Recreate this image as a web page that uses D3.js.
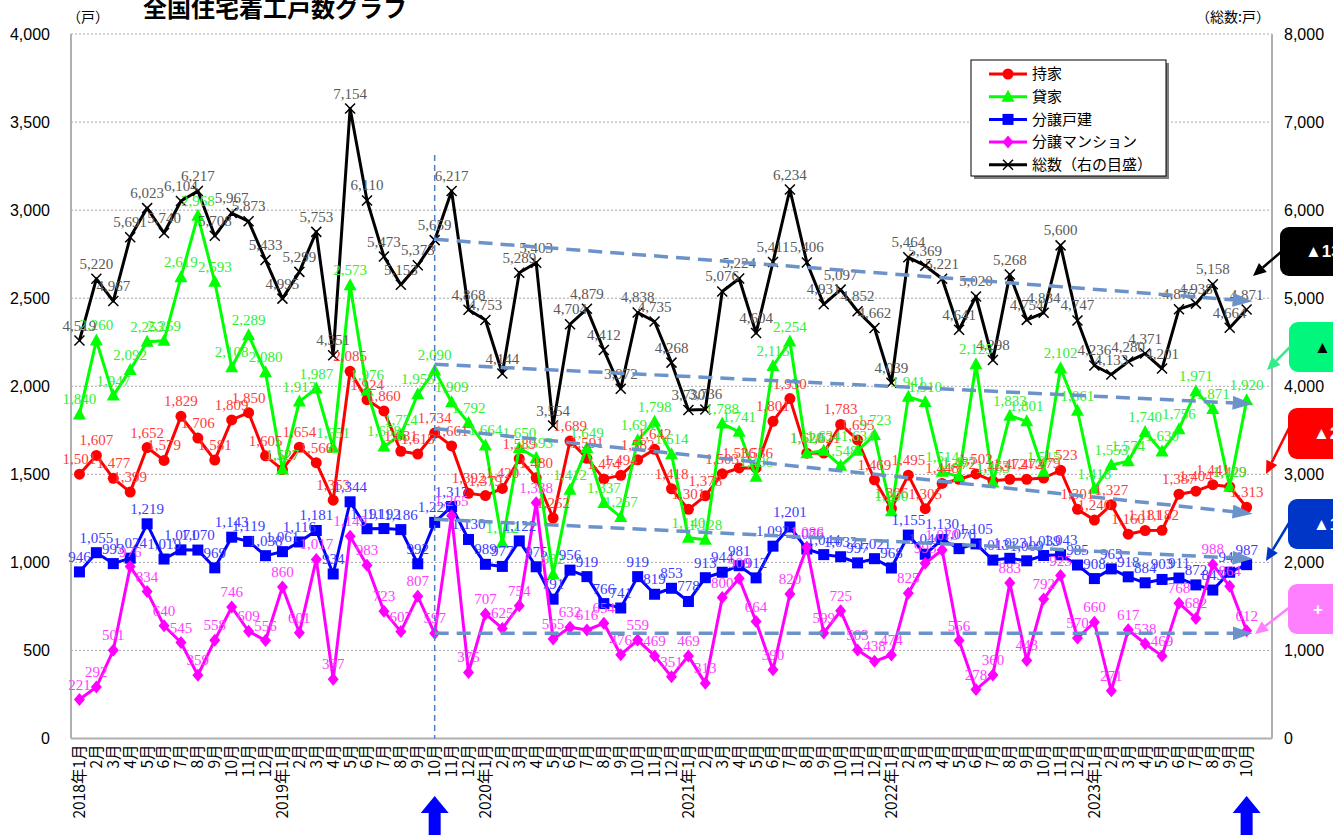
<!DOCTYPE html>
<html><head><meta charset="utf-8">
<script src="https://cdn.jsdelivr.net/npm/d3@7"></script>
<style>body{margin:0;background:#fff;overflow:hidden}svg{display:block}</style>
</head><body>
<svg id="chart" width="1333" height="835"></svg>
<script>
// 月次カテゴリ (2018年1月〜2023年10月)
const months = [
 "2018年1月","2月","3月","4月","5月","6月","7月","8月","9月","10月","11月","12月",
 "2019年1月","2月","3月","4月","5月","6月","7月","8月","9月","10月","11月","12月",
 "2020年1月","2月","3月","4月","5月","6月","7月","8月","9月","10月","11月","12月",
 "2021年1月","2月","3月","4月","5月","6月","7月","8月","9月","10月","11月","12月",
 "2022年1月","2月","3月","4月","5月","6月","7月","8月","9月","10月","11月","12月",
 "2023年1月","2月","3月","4月","5月","6月","7月","8月","9月","10月"
];
// 持家
const mochiie = [
 1501,1607,1477,1399,1652,1579,1829,1706,1581,1809,1850,1605,
 1527,1654,1566,1353,2085,1924,1860,1631,1615,1734,1661,1392,
 1379,1420,1589,1480,1252,1689,1591,1474,1494,1582,1642,1418,
 1301,1378,1503,1536,1536,1801,1930,1620,1621,1783,1695,1469,
 1306,1495,1305,1448,1472,1502,1463,1472,1472,1479,1523,1301,
 1240,1327,1160,1181,1182,1387,1404,1441,1429,1313
];
// 貸家
const kashiya = [
 1840,2260,1947,2092,2253,2259,2619,2968,2593,2108,2289,2080,
 1527,1913,1987,1651,2573,1976,1658,1724,1955,2090,1909,1792,
 1664,1112,1650,1593,932,1412,1649,1337,1257,1694,1798,1614,
 1140,1128,1788,1741,1486,2115,2254,1620,1634,1548,1634,1723,
 1290,1941,1910,1514,1487,2125,1453,1833,1801,1515,2102,1861,
 1418,1553,1574,1740,1630,1756,1971,1871,1429,1920
];
// 分譲戸建
const bunjoKodate = [
 946,1055,993,1024,1219,1019,1071,1070,969,1143,1119,1038,
 1061,1116,1181,934,1344,1191,1192,1186,992,1227,1317,1130,
 989,977,1122,975,791,956,919,766,741,919,819,853,
 778,913,944,981,912,1092,1201,1076,1044,1032,997,1021,
 968,1155,1046,1130,1078,1105,1013,1023,1009,1039,1043,985,
 908,963,918,884,903,911,872,843,944,987
];
// 分譲マンション
const bunjoMansion = [
 221,292,501,976,834,640,545,359,558,746,609,556,
 860,601,1017,337,1149,983,723,607,807,597,1265,375,
 707,625,754,1338,565,632,616,654,476,559,469,351,
 469,313,800,909,664,390,820,1086,599,725,503,438,
 474,825,995,1070,556,278,360,883,443,792,925,570,
 660,271,617,538,469,768,682,988,864,612
];
// 総数（右の目盛）
const total = [
 4519,5220,4967,5691,6023,5740,6104,6217,5708,5967,5873,5433,
 4995,5299,5753,4351,7154,6110,5473,5153,5373,5659,6217,4868,
 4753,4144,5289,5403,3554,4704,4879,4412,3972,4838,4735,4268,
 3730,3736,5076,5224,4604,5411,6234,5406,4931,5097,4852,4662,
 4039,5464,5369,5221,4641,5020,4298,5268,4754,4834,5600,4747,
 4236,4133,4280,4371,4201,4875,4938,5158,4664,4871
];
const leftTicks = [0,500,1000,1500,2000,2500,3000,3500,4000];
const rightTicks = [0,1000,2000,3000,4000,5000,6000,7000,8000];
// 比較期間（2019年10月 → 2023年10月）
const periodStart = 21, periodEnd = 69;
// 傾向線の始点・終点の値（持家, 貸家, 分譲戸建, 分譲マンション, 総数）
const trendFrom = [1760, 2125, 1245, 597, 5670];
const trendTo   = [1285, 1904, 1024, 597, 4977];
// 右側の増減ボックス
const badgeTexts = ["▲13", "▲", "▲2", "▲1", "+"];

const svg = d3.select("#chart");
const plot = {l: 71, r: 1272, t: 34, b: 738.5};
const slot = (plot.r - plot.l) / (months.length + 1);
const x = d3.scaleBand().domain(d3.range(months.length)).range([plot.l, plot.r - slot]);
const cx = i => x(i) + x.bandwidth() / 2;
const yL = d3.scaleLinear().domain([0, 4000]).range([plot.b, plot.t]);
const yR = d3.scaleLinear().domain([0, 8000]).range([plot.b, plot.t]);
const fmt = d3.format(",");

const numFont = "'Liberation Sans', Arial, sans-serif";
const jpFont = "'Noto Sans CJK JP', sans-serif";
const lblFont = "'Liberation Serif', 'DejaVu Serif', serif";

// グリッド線
svg.append("g").selectAll("line").data(leftTicks.filter(v => v > 0)).join("line")
  .attr("x1", plot.l).attr("x2", plot.r)
  .attr("y1", d => yL(d)).attr("y2", d => yL(d))
  .attr("stroke", "#a6a6a6").attr("stroke-width", 1).attr("stroke-dasharray", "2,2");

// 軸線
const axisColor = "#b0b0b0";
svg.append("line").attr("x1", plot.l).attr("x2", plot.l).attr("y1", plot.t).attr("y2", plot.b)
  .attr("stroke", axisColor).attr("stroke-width", 2);
svg.append("line").attr("x1", plot.r).attr("x2", plot.r).attr("y1", plot.t).attr("y2", plot.b)
  .attr("stroke", axisColor).attr("stroke-width", 2);
svg.append("line").attr("x1", plot.l).attr("x2", plot.r).attr("y1", plot.b).attr("y2", plot.b)
  .attr("stroke", axisColor).attr("stroke-width", 2);

// 左軸・右軸の目盛ラベル
const gL = svg.append("g").attr("transform", `translate(${plot.l},0)`)
  .call(d3.axisLeft(yL).tickValues(leftTicks).tickFormat(fmt).tickSize(0).tickPadding(21));
const gR = svg.append("g").attr("transform", `translate(${plot.r},0)`)
  .call(d3.axisRight(yR).tickValues(rightTicks).tickFormat(d => d === 0 ? "0" : d3.format(",")(d)).tickSize(0).tickPadding(12));
[gL, gR].forEach(g => {
  g.select(".domain").remove();
  g.selectAll("text").attr("font-family", numFont).attr("font-size", 16).attr("fill", "#000");
});

// 横軸ラベル（縦書き）
const gX = svg.append("g").attr("transform", `translate(0,${plot.b})`)
  .call(d3.axisBottom(x).tickFormat(i => months[i]).tickSize(0));
gX.select(".domain").remove();
gX.selectAll("text")
  .attr("font-family", jpFont).attr("font-size", 15.5).attr("fill", "#000")
  .attr("text-anchor", "end")
  .attr("transform", "rotate(-90)")
  .attr("x", -6).attr("y", 0).attr("dy", "0.35em");

// 系列
const series = [
  {name: "持家", values: mochiie, color: "#ff0000", label: "#ff3c3c", y: yL, mark: "circle"},
  {name: "貸家", values: kashiya, color: "#00ff00", label: "#33ee33", y: yL, mark: "triangle"},
  {name: "分譲戸建", values: bunjoKodate, color: "#0000ff", label: "#3c3cff", y: yL, mark: "square"},
  {name: "分譲マンション", values: bunjoMansion, color: "#ff00ff", label: "#ff3cff", y: yL, mark: "diamond"},
  {name: "総数（右の目盛）", values: total, color: "#000000", label: "#5a5a5a", y: yR, mark: "cross"}
];

function drawMarker(g, kind, color, px, py) {
  if (kind === "circle") {
    g.append("circle").attr("cx", px).attr("cy", py).attr("r", 5.5).attr("fill", color);
  } else if (kind === "triangle") {
    g.append("path").attr("d", `M${px},${py - 7}L${px + 6.5},${py + 5}L${px - 6.5},${py + 5}Z`).attr("fill", color);
  } else if (kind === "square") {
    g.append("rect").attr("x", px - 5.5).attr("y", py - 5.5).attr("width", 11).attr("height", 11).attr("fill", color);
  } else if (kind === "diamond") {
    g.append("path").attr("d", `M${px},${py - 6.5}L${px + 5.5},${py}L${px},${py + 6.5}L${px - 5.5},${py}Z`).attr("fill", color);
  } else {
    g.append("path").attr("d", `M${px - 5},${py - 5}L${px + 5},${py + 5}M${px - 5},${py + 5}L${px + 5},${py - 5}`)
      .attr("stroke", color).attr("stroke-width", 1.5).attr("fill", "none");
  }
}

const gSeries = svg.append("g");
series.forEach(s => {
  const g = gSeries.append("g");
  const line = d3.line().x((d, i) => cx(i)).y(d => s.y(d));
  g.append("path").attr("d", line(s.values)).attr("fill", "none")
    .attr("stroke", s.color).attr("stroke-width", 3).attr("stroke-linejoin", "round");
  s.values.forEach((v, i) => drawMarker(g, s.mark, s.color, cx(i), s.y(v)));
});

// データラベル
const gLabels = svg.append("g");
series.forEach(s => {
  gLabels.append("g").selectAll("text").data(s.values).join("text")
    .attr("x", (d, i) => cx(i)).attr("y", d => s.y(d) - 10)
    .attr("text-anchor", "middle")
    .attr("font-family", lblFont).attr("font-size", 15)
    .attr("fill", s.label)
    .text(d => fmt(d));
});

// 比較開始月の縦線
svg.append("line")
  .attr("x1", cx(periodStart)).attr("x2", cx(periodStart))
  .attr("y1", 155).attr("y2", plot.b)
  .attr("stroke", "#4f7fbf").attr("stroke-width", 1.5).attr("stroke-dasharray", "6,4");

// 傾向の矢印（点線）
const trendColor = "#6c93c9";
const defs = svg.append("defs");
defs.append("marker").attr("id", "trendHead").attr("viewBox", "0 0 20 14")
  .attr("refX", 6).attr("refY", 7).attr("markerWidth", 20).attr("markerHeight", 14)
  .attr("markerUnits", "userSpaceOnUse").attr("orient", "auto")
  .append("path").attr("d", "M0,0L20,7L0,14Z").attr("fill", trendColor);
series.forEach((s, k) => {
  svg.append("line")
    .attr("x1", cx(periodStart)).attr("y1", s.y(trendFrom[k]))
    .attr("x2", cx(periodEnd) - 8).attr("y2", s.y(trendTo[k]))
    .attr("stroke", trendColor).attr("stroke-width", 3.5)
    .attr("stroke-dasharray", "14,8")
    .attr("marker-end", "url(#trendHead)");
});

// 凡例
const lg = svg.append("g").attr("transform", "translate(971,60)");
lg.append("rect").attr("x", 3).attr("y", 3).attr("width", 195).attr("height", 116).attr("fill", "#7f7f7f");
lg.append("rect").attr("width", 195).attr("height", 116).attr("fill", "#fff").attr("stroke", "#000").attr("stroke-width", 1);
series.forEach((s, k) => {
  const yy = 14 + k * 22.7;
  lg.append("line").attr("x1", 18).attr("x2", 56).attr("y1", yy).attr("y2", yy)
    .attr("stroke", s.color).attr("stroke-width", 3);
  drawMarker(lg, s.mark, s.color, 37, yy);
  lg.append("text").attr("x", 61).attr("y", yy).attr("dy", "0.35em")
    .attr("font-family", jpFont).attr("font-size", 15).attr("fill", "#000").text(s.name);
});

// タイトル・単位
svg.append("text").attr("x", 143).attr("y", 17)
  .attr("font-family", jpFont).attr("font-size", 24).attr("font-weight", "bold").text("全国住宅着工戸数グラフ");
svg.append("text").attr("x", 67).attr("y", 22)
  .attr("font-family", jpFont).attr("font-size", 14).text("（戸）");
svg.append("text").attr("x", 1270).attr("y", 22).attr("text-anchor", "end")
  .attr("font-family", jpFont).attr("font-size", 14).text("（総数:戸）");

// 比較月を示す下部の矢印
[periodStart, periodEnd].forEach(i => {
  const px = cx(i);
  svg.append("path")
    .attr("d", `M${px},796L${px + 14},813L${px + 6},813L${px + 6},840L${px - 6},840L${px - 6},813L${px - 14},813Z`)
    .attr("fill", "#0000ff");
});

// 右側の増減ボックスと矢印
const badges = [
  {fill: "#000000", text: "#ffffff", arrow: "#000000", bx: 1280, by: 227, bh: 49, from: [1281, 252], to: [1253, 276]},
  {fill: "#00f77c", text: "#000000", arrow: "#33ee88", bx: 1289, by: 322, bh: 50, from: [1290, 347], to: [1267, 370]},
  {fill: "#ff0000", text: "#ffffff", arrow: "#ff0000", bx: 1288, by: 408, bh: 51, from: [1289, 428], to: [1266, 474]},
  {fill: "#0036c8", text: "#ffffff", arrow: "#0036c8", bx: 1288, by: 499, bh: 50, from: [1289, 523], to: [1266, 561]},
  {fill: "#ff80ff", text: "#ffffff", arrow: "#ff80ff", bx: 1288, by: 584, bh: 50, from: [1290, 607], to: [1255, 634]}
];
badges.forEach((b, k) => {
  svg.append("rect").attr("x", b.bx).attr("y", b.by).attr("width", 120).attr("height", b.bh)
    .attr("rx", 9).attr("fill", b.fill);
  svg.append("text").attr("x", b.bx + 25).attr("y", b.by + b.bh / 2).attr("dy", "0.35em")
    .attr("font-family", numFont).attr("font-weight", "bold").attr("font-size", 17)
    .attr("fill", b.text).text(badgeTexts[k]);
  const [x1, y1] = b.from, [x2, y2] = b.to;
  const ang = Math.atan2(y2 - y1, x2 - x1), L = 13, Wd = 6;
  const bxp = x2 - L * Math.cos(ang), byp = y2 - L * Math.sin(ang);
  svg.append("line").attr("x1", x1).attr("y1", y1).attr("x2", bxp).attr("y2", byp)
    .attr("stroke", b.arrow).attr("stroke-width", 2.5);
  svg.append("path").attr("d",
    `M${x2},${y2}L${bxp + Wd * Math.sin(ang)},${byp - Wd * Math.cos(ang)}L${bxp - Wd * Math.sin(ang)},${byp + Wd * Math.cos(ang)}Z`)
    .attr("fill", b.arrow);
});
</script>
</body></html>
